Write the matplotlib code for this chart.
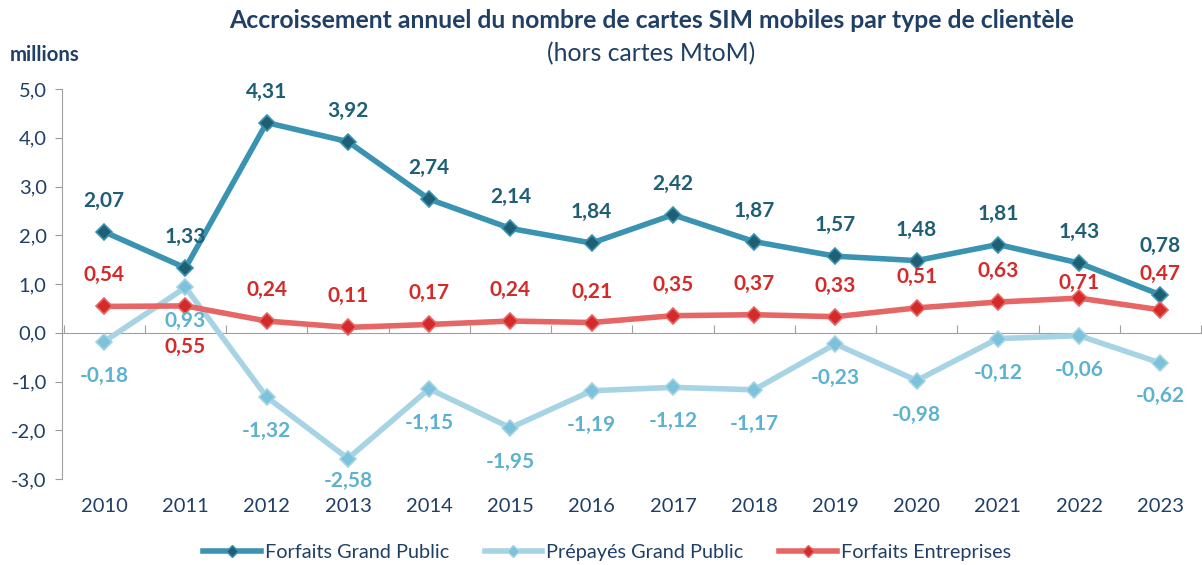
import numpy as np
import matplotlib.pyplot as plt
from matplotlib.lines import Line2D

plt.rcParams['font.family'] = ['Lato', 'DejaVu Sans']

years = ['2010', '2011', '2012', '2013', '2014', '2015', '2016',
         '2017', '2018', '2019', '2020', '2021', '2022', '2023']
forfaits_gp = [2.07, 1.33, 4.31, 3.92, 2.74, 2.14, 1.84, 2.42, 1.87, 1.57, 1.48, 1.81, 1.43, 0.78]
prepayes_gp = [-0.18, 0.93, -1.32, -2.58, -1.15, -1.95, -1.19, -1.12, -1.17, -0.23, -0.98, -0.12, -0.06, -0.62]
forfaits_ent = [0.54, 0.55, 0.24, 0.11, 0.17, 0.24, 0.21, 0.35, 0.37, 0.33, 0.51, 0.63, 0.71, 0.47]
y_ticks = [-3, -2, -1, 0, 1, 2, 3, 4, 5]

NAVY = '#1f3f66'

fig = plt.figure(figsize=(12.02, 5.65), dpi=100)
ax = fig.add_axes([62 / 1202, 86 / 565, 1139 / 1202, 390 / 565])

x = np.arange(len(years))

series = [
    # label, values, line color, marker face, text color, default offset (px), exceptions
    ('Forfaits Grand Public', forfaits_gp, '#3a93b0', '#1f5f74', '#1f5f74', 31, {13: 49}),
    ('Prépayés Grand Public', prepayes_gp, '#a7d4e4', '#7cc2da', '#5cb2cf', -34, {13: -33, 3: -22}),
    ('Forfaits Entreprises', forfaits_ent, '#e66565', '#d42a2a', '#d42a2a', 31, {1: -41, 12: 15, 13: 36}),
]

handles = []
for name, vals, lc, mc, tc, off, exc in series:
    ax.plot(x, vals, color=lc, lw=4, marker='D', markersize=8.5,
            markerfacecolor=mc, markeredgecolor=lc, markeredgewidth=1.2,
            solid_joinstyle='round', zorder=3)
    for i, v in enumerate(vals):
        dy = exc.get(i, off)
        ax.annotate(f'{v:.2f}'.replace('.', ','), (i, v), xytext=(0, dy),
                    textcoords='offset pixels', ha='center', va='center',
                    fontsize=15, fontweight='bold', color=tc, zorder=4)
    handles.append(Line2D([], [], color=lc, lw=4, marker='D', markersize=6,
                          markerfacecolor=mc, markeredgecolor=lc, label=name))

ax.set_xlim(-0.52, len(years) - 0.5)
ax.set_ylim(-3, 5)
ax.set_yticks(y_ticks)
ax.set_yticklabels([f'{t:.1f}'.replace('.', ',') for t in y_ticks],
                   fontsize=14.5, color=NAVY)
ax.tick_params(axis='y', length=5, color='#999999', pad=6)

for s in ['top', 'right']:
    ax.spines[s].set_visible(False)
ax.spines['left'].set_color('#a0a0a0')
ax.spines['bottom'].set_position(('data', 0))
ax.spines['bottom'].set_color('#a0a0a0')
ax.set_xticks(np.arange(len(years) + 1) - 0.5)
ax.set_xticklabels([])
ax.tick_params(axis='x', direction='in', length=6, color='#a0a0a0')

trans = ax.get_xaxis_transform()
for i, yr in enumerate(years):
    ax.text(i, -0.07, yr, transform=trans, ha='center', va='center',
            fontsize=14.5, color=NAVY)

fig.text(0.542, 0.963, 'Accroissement annuel du nombre de cartes SIM mobiles par type de clientèle',
         ha='center', va='center', fontsize=17.8, fontweight='bold', color=NAVY)
fig.text(0.542, 0.905, '(hors cartes MtoM)', ha='center', va='center',
         fontsize=17.8, color=NAVY)
fig.text(0.008, 0.903, 'millions', ha='left', va='center', fontsize=14.7,
         fontweight='bold', color=NAVY)

fig.legend(handles=handles, loc='center', bbox_to_anchor=(0.505, 0.023), ncol=3,
           frameon=False, fontsize=14.3, handlelength=2.9, columnspacing=1.8,
           handletextpad=0.2, labelcolor=NAVY)

fig.savefig('out.png', dpi=100)
